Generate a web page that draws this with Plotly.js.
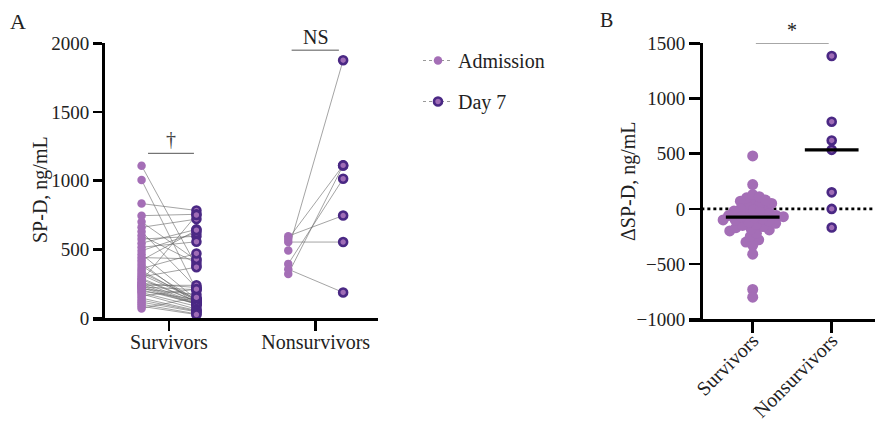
<!DOCTYPE html>
<html>
<head>
<meta charset="utf-8">
<script src="https://cdn.plot.ly/plotly-3.0.1.min.js"></script>
<style>html,body{margin:0;padding:0;background:#fff;}#chart{width:875px;height:423px;}</style>
</head>
<body>
<div id="chart"></div>
<script>
// ---------- data ----------
const groups = ["Survivors", "Nonsurvivors"];
const seriesNames = ["Admission", "Day 7"];
const admSurv = [1109,1005,833,745,700,660,630,600,575,545,515,490,465,440,420,400,380,360,345,330,315,300,290,280,270,260,252,245,238,232,226,220,212,205,195,185,175,160,145,130,115,100,85,70];
const d7Surv  = [379,205,783,755,420,720,220,400,595,645,555,620,135,430,640,100,130,470,125,140,135,370,120,120,750,110,222,105,238,102,206,100,172,105,135,85,65,210,55,50,45,30,25,150];
const admNon = [492,596,553,321,394,355,576];
const d7Non  = [1877,746,553,1111,1014,186,1111];
const yTicksA = [0,500,1000,1500,2000];
const yTicksB = [-1000,-500,0,500,1000,1500];
const sigA = ["†", "NS"];
const sigB = "*";

// ---------- styling ----------
const W = 875, H = 423;
const FONT = "Liberation Serif";
const cAdm = "#A46EB6";
const cD7line = "#4A2884";
const cD7fill = "#9F6CB6";
const txt = "#222";
const off = 0.187;

const deltaSurv = d7Surv.map((v,i)=>v-admSurv[i]);
const deltaNon = d7Non.map((v,i)=>v-admNon[i]);
function median(a){const s=[...a].sort((x,y)=>x-y);const n=s.length;return n%2?s[(n-1)/2]:(s[n/2-1]+s[n/2])/2;}

// beeswarm (pixel space)
function swarm(vals, pxY, pxX, diam){
  const idx = vals.map((v,i)=>i).sort((a,b)=>vals[b]-vals[a]);
  const placed=[]; const out=new Array(vals.length);
  for(const i of idx){
    const y=vals[i]*pxY; const cands=[0];
    for(const p of placed){const dy=Math.abs(p.y-y); if(dy<diam){const dx=Math.sqrt(diam*diam-dy*dy); cands.push(p.x+dx,p.x-dx);}}
    cands.sort((a,b)=>Math.abs(a)-Math.abs(b));
    let ch=0;
    for(const c of cands){ if(placed.every(p=>(p.x-c)**2+(p.y-y)**2>=diam*diam-1e-6)){ch=c;break;} }
    placed.push({x:ch,y}); out[i]=ch/pxX;
  }
  return out;
}

// pixel geometry
const xA0=93, xA1=378, catA0=169, catA1=315.7;
const pxA=(catA1-catA0);
const yTop=43.3, yBotA=318, yBotB=319.3;
const xB0=689, xB1=875, catB0=752.7, catB1=831.7;
const pxB=(catB1-catB0);
const pxYB=(yBotB-yTop)/2500;

const swX = swarm(deltaSurv, pxYB, pxB, 7);

// connection lines
const lx=[], ly=[];
admSurv.forEach((v,i)=>{lx.push(-off,off,null); ly.push(v,d7Surv[i],null);});
admNon.forEach((v,i)=>{lx.push(1-off,1+off,null); ly.push(v,d7Non[i],null);});

const admMarker={color:cAdm,size:8.5};
const d7Marker={color:cD7fill,size:8,line:{color:cD7line,width:2.6}};

const traces=[
 {x:lx,y:ly,mode:"lines",line:{color:"#666",width:0.6},hoverinfo:"skip",showlegend:false,xaxis:"x",yaxis:"y"},
 {x:admSurv.map(()=>-off).concat(admNon.map(()=>1-off)),y:admSurv.concat(admNon),mode:"markers",marker:admMarker,showlegend:false,cliponaxis:false,xaxis:"x",yaxis:"y"},
 {x:d7Surv.map(()=>off).concat(d7Non.map(()=>1+off)),y:d7Surv.concat(d7Non),mode:"markers",marker:d7Marker,showlegend:false,cliponaxis:false,xaxis:"x",yaxis:"y"},
 // legend entries
 {x:[null],y:[null],name:seriesNames[0],mode:"lines+markers",line:{color:"#999",width:1,dash:"dot"},marker:admMarker,legendgroup:"a",xaxis:"x",yaxis:"y"},
 {x:[null],y:[null],name:seriesNames[1],mode:"lines+markers",line:{color:"#999",width:1,dash:"dot"},marker:d7Marker,legendgroup:"b",xaxis:"x",yaxis:"y"},
 // panel B
 {x:[-0.65,1.55],y:[0,0],mode:"lines",line:{color:"#000",width:2.6,dash:"dot"},hoverinfo:"skip",showlegend:false,xaxis:"x2",yaxis:"y2"},
 {x:swX,y:deltaSurv,mode:"markers",marker:{color:cAdm,size:11},showlegend:false,cliponaxis:false,xaxis:"x2",yaxis:"y2"},
 {x:deltaNon.map(()=>1),y:deltaNon,mode:"markers",marker:{color:cD7fill,size:8,line:{color:cD7line,width:2.6}},showlegend:false,cliponaxis:false,xaxis:"x2",yaxis:"y2"},
 {x:[-0.34,0.34,null,1-0.34,1+0.34],y:[median(deltaSurv),median(deltaSurv),null,median(deltaNon),median(deltaNon)],mode:"lines",line:{color:"#000",width:3.2},showlegend:false,cliponaxis:false,xaxis:"x2",yaxis:"y2"}
];

const axLine={showline:true,linecolor:"#000",linewidth:2.6,ticks:"outside",tickcolor:"#000",tickwidth:2.6,showgrid:false,zeroline:false,tickfont:{family:FONT,size:19,color:txt},fixedrange:true};

const layout={
 width:W,height:H,margin:{l:0,r:0,t:0,b:0},paper_bgcolor:"#fff",plot_bgcolor:"rgba(0,0,0,0)",
 font:{family:FONT,color:txt},
 showlegend:true,
 legend:{x:418/W,y:1-41/H,xanchor:"left",yanchor:"top",font:{family:FONT,size:20,color:txt},tracegroupgap:12,bgcolor:"rgba(0,0,0,0)"},
 xaxis:Object.assign({},axLine,{domain:[xA0/W,xA1/W],range:[-(catA0-xA0)/pxA,1+(xA1-catA1)/pxA],tickvals:[0,1],ticktext:groups,ticklen:10,ticklabelstandoff:-6,tickfont:{family:FONT,size:20,color:txt},anchor:"y"}),
 yaxis:Object.assign({},axLine,{domain:[1-yBotA/H,1-yTop/H],range:[0,2000],tickvals:yTicksA,ticklen:9,anchor:"free",position:103/W}),
 xaxis2:Object.assign({},axLine,{domain:[xB0/W,xB1/W],range:[-(catB0-xB0)/pxB,1+(xB1-catB1)/pxB],tickvals:[0,1],ticktext:groups,ticklen:11,tickangle:-45,ticklabelstandoff:-12,tickfont:{family:FONT,size:20,color:txt},anchor:"y2"}),
 yaxis2:Object.assign({},axLine,{domain:[1-yBotB/H,1-yTop/H],range:[-1000,1500],tickvals:yTicksB,ticklen:11,anchor:"free",position:701/W}),
 shapes:[
  {type:"line",xref:"x",yref:"y",x0:-0.143,x1:0.17,y0:1199,y1:1199,line:{color:"#555",width:1}},
  {type:"line",xref:"x",yref:"y",x0:1-0.164,x1:1+0.158,y0:1950,y1:1950,line:{color:"#555",width:1}},
  {type:"line",xref:"x2",yref:"y2",x0:0.04,x1:0.962,y0:1501,y1:1501,line:{color:"#555",width:1}}
 ],
 annotations:[
  {xref:"x",yref:"y",x:0.013,y:1199,text:sigA[0],showarrow:false,yanchor:"bottom",yshift:1,font:{family:FONT,size:20,color:"#444"}},
  {xref:"x",yref:"y",x:1,y:1950,text:sigA[1],showarrow:false,yanchor:"bottom",yshift:0,font:{family:FONT,size:20,color:txt}},
  {xref:"x2",yref:"y2",x:0.5,y:1500,text:sigB,showarrow:false,yanchor:"bottom",yshift:0,font:{family:FONT,size:20,color:txt}},
  {xref:"paper",yref:"paper",x:40/W,y:1-190/H,text:"SP-D, ng/mL",textangle:-90,showarrow:false,xanchor:"center",yanchor:"middle",font:{family:FONT,size:20,color:txt}},
  {xref:"paper",yref:"paper",x:628/W,y:1-181/H,text:"ΔSP-D, ng/mL",textangle:-90,showarrow:false,xanchor:"center",yanchor:"middle",font:{family:FONT,size:20,color:txt}},
  {xref:"paper",yref:"paper",x:18/W,y:1-22/H,text:"A",showarrow:false,xanchor:"center",yanchor:"middle",font:{family:FONT,size:22,color:txt}},
  {xref:"paper",yref:"paper",x:606/W,y:1-20/H,text:"B",showarrow:false,xanchor:"center",yanchor:"middle",font:{family:FONT,size:20,color:txt}}
 ]
};

Plotly.newPlot("chart",traces,layout,{displayModeBar:false,staticPlot:true});
</script>
</body>
</html>
